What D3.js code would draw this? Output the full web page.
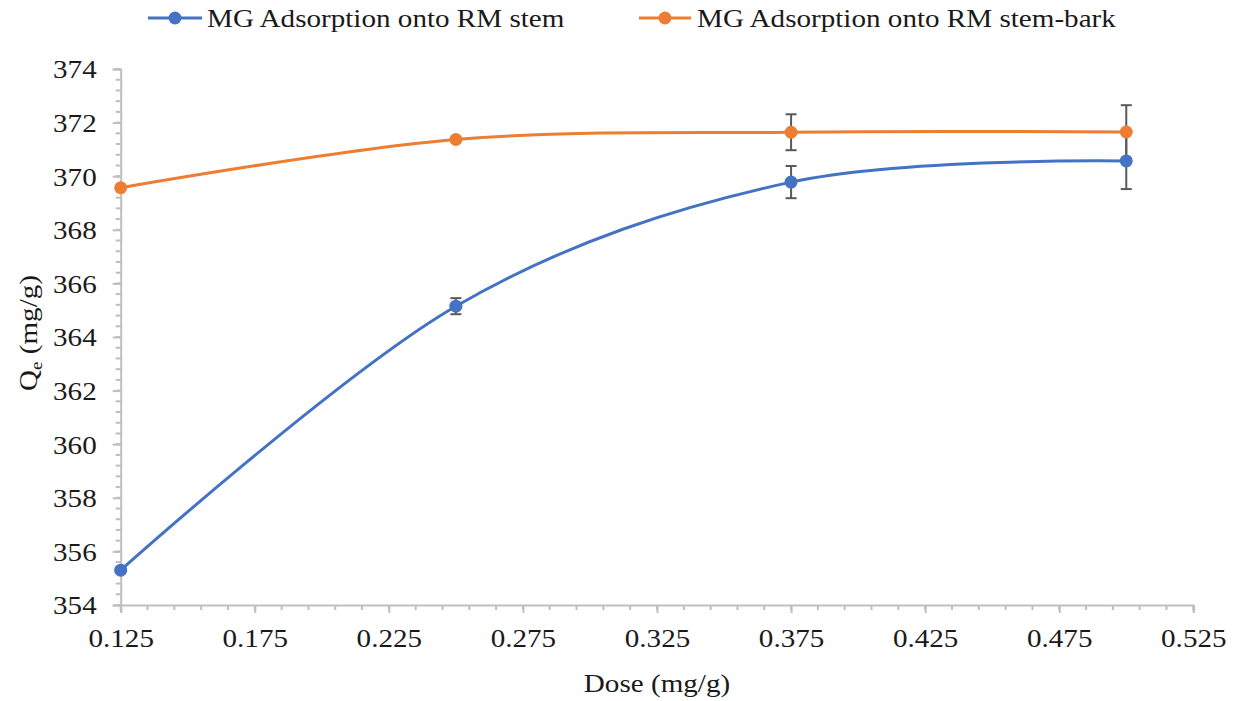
<!DOCTYPE html>
<html><head><meta charset="utf-8">
<script src="https://cdn.jsdelivr.net/npm/d3@7"></script>
<style>body{margin:0;background:#fff}svg{display:block}svg text{font-family:"Liberation Serif","Times New Roman",serif !important;fill:#1a1a1a}</style>
</head><body>
<svg id="c" width="1239" height="701" font-family="Liberation Serif"></svg>
<script>
const doses = [0.125, 0.25, 0.375, 0.5];
const stemQe = [355.3, 365.15, 369.78, 370.57];
const stemErr = [0, 0.3, 0.6, 1.05];
const barkQe = [369.57, 371.37, 371.64, 371.65];
const barkErr = [0, 0, 0.67, 1.0];
const seriesNames = ["MG Adsorption onto RM stem", "MG Adsorption onto RM stem-bark"];
const seriesColors = ["#4472C4", "#ED7D31"];
const xTicks = [0.125, 0.175, 0.225, 0.275, 0.325, 0.375, 0.425, 0.475, 0.525];
const yTicks = [354, 356, 358, 360, 362, 364, 366, 368, 370, 372, 374];

const svg = d3.select("#c");
const SX = 1.12, FS = 26;
const FONT = '"Liberation Serif", "Times New Roman", serif';
const x = d3.scaleLinear().domain([0.125, 0.525]).range([120.7, 1193.3]);
const y = d3.scaleLinear().domain([354, 374]).range([605, 69]);
const axisColor = "#BFBFBF";

// minor ticks
const yMinor = d3.range(354, 374.001, 0.4);
svg.append("g").selectAll("line").data(yMinor).join("line")
  .attr("x1", x(0.125) - 5).attr("x2", x(0.125)).attr("y1", d => y(d)).attr("y2", d => y(d))
  .attr("stroke", axisColor).attr("stroke-width", 2);
const xMinor = d3.range(0, 41).map(i => 0.125 + i * 0.01);
svg.append("g").selectAll("line").data(xMinor).join("line")
  .attr("y1", y(354)).attr("y2", y(354) + 5).attr("x1", d => x(d)).attr("x2", d => x(d))
  .attr("stroke", axisColor).attr("stroke-width", 2);

// axes
const yAxis = svg.append("g").attr("transform", `translate(${x(0.125)},0)`)
  .call(d3.axisLeft(y).tickValues(yTicks).tickSize(8).tickPadding(0).tickFormat(d3.format("d")));
const xAxis = svg.append("g").attr("transform", `translate(0,${y(354)})`)
  .call(d3.axisBottom(x).tickValues(xTicks).tickSize(8).tickPadding(0).tickFormat(d3.format(".3f")));
[xAxis, yAxis].forEach(a => {
  a.attr("font-family", FONT).attr("font-size", FS);
  a.select(".domain").attr("stroke", axisColor).attr("stroke-width", 2);
  a.selectAll(".tick line").attr("stroke", axisColor).attr("stroke-width", 2);
  a.selectAll(".tick text").attr("font-size", FS).attr("fill", "#1a1a1a")
   .attr("font-family", FONT);
});
yAxis.selectAll(".tick text").attr("x", null).attr("dy", null)
  .attr("text-anchor", "end").attr("dominant-baseline", "central")
  .attr("transform", `translate(-24,0) scale(${SX},1)`);
xAxis.selectAll(".tick text").attr("y", null).attr("dy", null)
  .attr("dominant-baseline", "auto")
  .attr("transform", `translate(0,42) scale(${SX},1)`);

// axis titles
svg.append("text").attr("transform", `translate(${x(0.325)},692) scale(${SX},1)`)
  .attr("text-anchor", "middle").attr("font-size", FS).attr("font-family", FONT).text("Dose (mg/g)");
const yt = svg.append("text").attr("transform", `translate(37,333) rotate(-90) scale(${SX},1)`)
  .attr("text-anchor", "middle").attr("font-size", FS).attr("font-family", FONT);
yt.append("tspan").text("Q");
yt.append("tspan").attr("font-size", 17).attr("dy", 5).text("e");
yt.append("tspan").attr("dy", -5).text(" (mg/g)");

// series
const series = [
  {vals: stemQe, err: stemErr, color: seriesColors[0]},
  {vals: barkQe, err: barkErr, color: seriesColors[1]}
];
const line = d3.line().x(d => x(d[0])).y(d => y(d[1])).curve(d3.curveCardinal.tension(0));
series.forEach(s => {
  const pts = doses.map((d, i) => [d, s.vals[i], s.err[i]]);
  svg.append("path").datum(pts).attr("d", line).attr("fill", "none")
    .attr("stroke", s.color).attr("stroke-width", 3);
});
series.forEach(s => {
  const pts = doses.map((d, i) => [d, s.vals[i], s.err[i]]).filter(p => p[2] > 0);
  const g = svg.append("g").attr("stroke", "#595959").attr("stroke-width", 2);
  g.selectAll(".v").data(pts).join("line")
    .attr("x1", d => x(d[0])).attr("x2", d => x(d[0]))
    .attr("y1", d => y(d[1] - d[2])).attr("y2", d => y(d[1] + d[2]));
  g.selectAll(".t").data(pts).join("line")
    .attr("x1", d => x(d[0]) - 5.5).attr("x2", d => x(d[0]) + 5.5)
    .attr("y1", d => y(d[1] + d[2])).attr("y2", d => y(d[1] + d[2]));
  g.selectAll(".b").data(pts).join("line")
    .attr("x1", d => x(d[0]) - 5.5).attr("x2", d => x(d[0]) + 5.5)
    .attr("y1", d => y(d[1] - d[2])).attr("y2", d => y(d[1] - d[2]));
});
series.forEach(s => {
  svg.append("g").selectAll("circle").data(doses.map((d, i) => [d, s.vals[i]])).join("circle")
    .attr("cx", d => x(d[0])).attr("cy", d => y(d[1])).attr("r", 6.5).attr("fill", s.color);
});

// legend
const legendX = [[148, 202, 207], [639, 691, 697]];
seriesNames.forEach((n, i) => {
  const [a, b, t] = legendX[i];
  svg.append("line").attr("x1", a).attr("x2", b).attr("y1", 18).attr("y2", 18)
    .attr("stroke", seriesColors[i]).attr("stroke-width", 3);
  svg.append("circle").attr("cx", (a + b) / 2).attr("cy", 18).attr("r", 6.5).attr("fill", seriesColors[i]);
  svg.append("text").attr("transform", `translate(${t},27) scale(${SX},1)`)
    .attr("font-size", FS).attr("font-family", FONT).text(n);
});
</script>
</body></html>
